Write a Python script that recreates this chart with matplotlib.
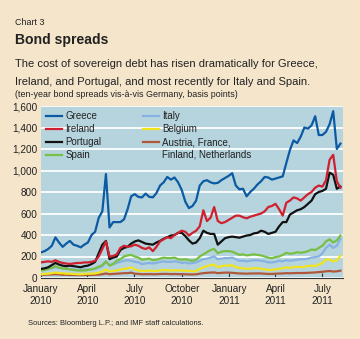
import matplotlib
matplotlib.use("Agg")
from matplotlib import pyplot as plt
import pandas as pd

# weekly observations, 1 Jan 2010 to 5 Aug 2011
dates = pd.date_range("2010-01-01", periods=84, freq="7D")

greece = [238, 250, 270, 300, 378, 330, 290, 320, 345, 310,
          300, 285, 310, 330, 400, 430, 560, 620, 967, 470,
          520, 520, 520, 545, 640, 760, 780, 754, 750, 785,
          755, 750, 790, 860, 890, 940, 915, 935, 890, 820,
          710, 650, 670, 720, 860, 900, 910, 890, 880, 885,
          910, 930, 950, 975, 860, 825, 830, 760, 800, 830,
          870, 900, 940, 935, 915, 925, 935, 945, 1070, 1190,
          1280, 1255, 1315, 1400, 1390, 1420, 1505, 1330, 1330, 1360,
          1430, 1552, 1200, 1250]
ireland = [145, 150, 155, 150, 165, 150, 140, 135, 130, 135,
           140, 140, 145, 145, 150, 160, 200, 270, 340, 200,
           205, 220, 280, 300, 290, 295, 310, 300, 280, 270,
           285, 250, 290, 340, 360, 380, 370, 400, 420, 440,
           430, 395, 420, 440, 480, 630, 530, 560, 660, 530,
           510, 520, 540, 560, 580, 580, 565, 555, 570, 580,
           590, 600, 620, 660, 670, 690, 640, 580, 700, 720,
           750, 740, 720, 750, 780, 800, 840, 860, 850, 910,
           1100, 1146, 900, 840]
portugal = [85, 90, 100, 120, 140, 125, 115, 110, 115, 110,
            105, 100, 110, 115, 130, 150, 230, 310, 345, 175,
            190, 200, 260, 280, 290, 320, 340, 350, 335, 320,
            315, 310, 330, 345, 365, 380, 395, 400, 420, 420,
            390, 350, 320, 330, 370, 440, 420, 410, 410, 310,
            340, 370, 380, 385, 380, 375, 385, 395, 400, 415,
            420, 440, 430, 410, 420, 430, 480, 520, 520, 590,
            610, 630, 640, 660, 690, 720, 780, 800, 810, 830,
            980, 960, 830, 850]
spain = [70, 75, 85, 95, 110, 95, 90, 85, 80, 75,
         70, 70, 70, 75, 80, 90, 105, 120, 155, 115,
         130, 160, 175, 200, 210, 215, 200, 190, 170, 175,
         180, 165, 170, 180, 190, 185, 185, 190, 175, 170,
         175, 165, 160, 170, 200, 220, 240, 260, 270, 230,
         245, 250, 250, 245, 230, 215, 220, 210, 215, 220,
         215, 210, 200, 190, 185, 195, 200, 215, 235, 225,
         230, 240, 235, 240, 250, 265, 260, 280, 300, 340,
         360, 330, 350, 395]
italy = [80, 80, 85, 90, 100, 95, 90, 85, 85, 80,
         75, 75, 80, 80, 80, 85, 95, 110, 150, 120,
         130, 140, 150, 160, 165, 160, 150, 145, 130, 135,
         140, 135, 140, 150, 155, 150, 150, 155, 150, 140,
         145, 135, 140, 145, 160, 175, 180, 190, 200, 175,
         180, 185, 185, 190, 175, 160, 160, 155, 160, 165,
         165, 160, 155, 145, 145, 150, 160, 155, 165, 160,
         165, 170, 175, 175, 180, 190, 195, 200, 230, 280,
         310, 280, 300, 365]
belgium = [35, 38, 40, 45, 50, 45, 45, 40, 40, 38,
           35, 35, 38, 40, 40, 42, 50, 60, 80, 60,
           65, 70, 80, 85, 90, 100, 80, 70, 65, 65,
           70, 65, 65, 70, 75, 72, 70, 72, 70, 68,
           70, 65, 62, 65, 85, 100, 110, 120, 125, 100,
           110, 115, 115, 120, 100, 95, 90, 85, 88, 90,
           90, 85, 80, 75, 75, 80, 85, 90, 100, 95,
           100, 105, 100, 105, 110, 115, 110, 125, 140, 170,
           175, 155, 165, 205]
core = [30, 30, 32, 33, 35, 33, 30, 30, 28, 28,
        27, 27, 28, 28, 28, 30, 32, 35, 42, 35,
        38, 40, 42, 45, 45, 50, 40, 38, 35, 35,
        36, 35, 35, 37, 38, 38, 36, 37, 36, 35,
        35, 33, 33, 34, 40, 45, 48, 50, 52, 45,
        48, 50, 50, 48, 45, 42, 42, 40, 42, 42,
        43, 42, 40, 38, 38, 40, 42, 42, 45, 44,
        45, 47, 46, 47, 48, 50, 52, 55, 58, 62,
        65, 60, 62, 68]

y_ticks = [0, 200, 400, 600, 800, 1000, 1200, 1400, 1600]
x_ticks = ["2010-01-01", "2010-04-01", "2010-07-01", "2010-10-01",
           "2011-01-01", "2011-04-01", "2011-07-01"]
x_labels = ["January\n2010", "April\n2010", "July\n2010", "October\n2010",
            "January\n2011", "April\n2011", "July\n2011"]

PAGE = "#f4e5cb"
PANEL = "#b6d4de"
SANS = ["Liberation Sans", "DejaVu Sans"]
INK = "#222222"

fig = plt.figure(figsize=(3.6, 3.39), dpi=100, facecolor=PAGE)
ax = fig.add_axes([41 / 360, 1 - 278 / 339, 302 / 360, 172 / 339])
ax.set_facecolor(PANEL)

# back to front so Greece sits on top
series = [
    ("Austria, France,", core, "#b0573a"),
    ("Belgium", belgium, "#f2e41c"),
    ("Italy", italy, "#86b2e2"),
    ("Spain", spain, "#78c043"),
    ("Portugal", portugal, "#111111"),
    ("Ireland", ireland, "#d0202e"),
    ("Greece", greece, "#0b5aa3"),
]
handles = {}
for name, vals, col in series:
    ln, = ax.plot(dates, vals, color=col, lw=1.6, solid_joinstyle="round")
    handles[name] = ln

order = ["Greece", "Ireland", "Portugal", "Spain", "Italy", "Belgium", "Austria, France,"]
leg = ax.legend([handles[k] for k in order], order, ncol=2, loc="upper left",
                bbox_to_anchor=(0.0, 1.0), frameon=False,
                prop={"family": SANS, "size": 7},
                handlelength=1.6, handletextpad=0.35, columnspacing=4.3,
                labelspacing=0.3, borderpad=0.45, borderaxespad=0.1)
for t in leg.get_texts():
    t.set_color(INK)

ax.set_ylim(0, 1600)
ax.set_xlim(pd.Timestamp("2010-01-01"), pd.Timestamp("2011-08-10"))
ax.set_yticks(y_ticks)
ax.set_yticklabels([f"{v:,}" for v in y_ticks], family=SANS, fontsize=7.2)
ax.set_xticks(pd.to_datetime(x_ticks))
ax.set_xticklabels(x_labels, family=SANS, fontsize=7.2, linespacing=1.3)
ax.grid(axis="y", color="white", lw=1.3)
ax.set_axisbelow(True)
for s in ["top", "right", "left"]:
    ax.spines[s].set_visible(False)
ax.spines["bottom"].set_color("#333333")
ax.spines["bottom"].set_linewidth(0.8)
ax.tick_params(axis="y", length=0, pad=2.5, colors=INK)
ax.tick_params(axis="x", direction="in", length=3.5, width=0.8, pad=4,
               color="#333333", labelcolor=INK)

# header and footer text, each sized to its column width
renderer = fig.canvas.get_renderer()


def put(x, y, s, width, **kw):
    t = fig.text(x / 360, 1 - y / 339, s, va="baseline", color=INK, **kw)
    w = t.get_window_extent(renderer).width
    t.set_fontsize(t.get_fontsize() * width / w)
    return t


put(15, 25, "Chart 3", 29, family=SANS, fontsize=7)
put(15, 44, "Bond spreads", 94, family=SANS, fontsize=10, fontweight="bold")
put(15, 67, "The cost of sovereign debt has risen dramatically for Greece,", 303,
    family=SANS, fontsize=8)
put(15, 85, "Ireland, and Portugal, and most recently for Italy and Spain.", 297,
    family=SANS, fontsize=8)
put(15, 97, "(ten-year bond spreads vis-\u00e0-vis Germany, basis points)", 222,
    family=SANS, fontsize=6)
put(28, 325, "Sources: Bloomberg L.P.; and IMF staff calculations.", 176,
    family=SANS, fontsize=5.5)

# second line of the last legend label, under its first line
fig.canvas.draw()
aut = leg.get_texts()[-1].get_window_extent(renderer)
fig.text(aut.x0 / 360, (aut.y0 - 12.5 + aut.height / 2) / 339, "Finland, Netherlands",
         family=SANS, fontsize=7, va="center", ha="left", color=INK)

fig.savefig("out.png", dpi=100, facecolor=PAGE)
